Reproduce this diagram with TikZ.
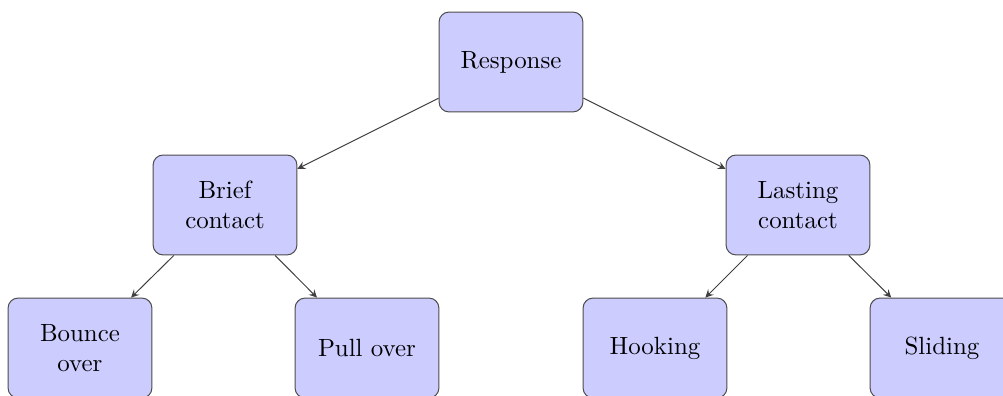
\documentclass[tikz,border=0pt]{standalone}
\usepackage{tikz}

\begin{document}
\begin{tikzpicture}[
        box/.style={draw=black!70, fill=blue!20, rounded corners=4pt, align=center,
                    minimum width=2.03cm, minimum height=1.41cm, inner sep=2pt},
        link/.style={->, >=stealth, draw=black!75}
    ]
        \useasboundingbox (0, -5.589) rectangle (14.157, 0);
        \node [box] (response) at (7.212, -0.875) {Response};
        \node [box] (brief) at (3.176, -2.893) {Brief\\contact};
        \node [box] (lasting) at (11.263, -2.893) {Lasting\\contact};
        \node [box] (bounce) at (1.129, -4.912) {Bounce\\over};
        \node [box] (pull) at (5.180, -4.912) {Pull over};
        \node [box] (hooking) at (9.245, -4.912) {Hooking};
        \node [box] (sliding) at (13.296, -4.912) {Sliding};
        \draw [link] (response) -- (brief);
        \draw [link] (response) -- (lasting);
        \draw [link] (brief) -- (bounce);
        \draw [link] (brief) -- (pull);
        \draw [link] (lasting) -- (hooking);
        \draw [link] (lasting) -- (sliding);
    \end{tikzpicture}
\end{document}
